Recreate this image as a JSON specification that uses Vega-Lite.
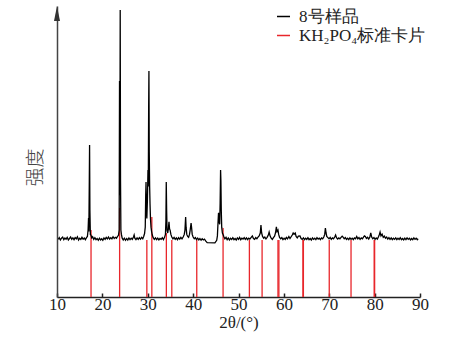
{
  "$schema": "https://vega.github.io/schema/vega-lite/v6.json",
  "width": 363,
  "height": 291,
  "autosize": "none",
  "padding": {"left": 57, "top": 6, "right": 31, "bottom": 49},
  "config": {
    "view": {"stroke": null},
    "font": "Liberation Serif",
    "axisX": {
      "grid": false,
      "domainColor": "#222", "domainWidth": 1.5,
      "tickColor": "#222", "tickWidth": 1.5, "tickSize": -4,
      "labelFont": "Liberation Serif", "labelFontSize": 17, "labelColor": "#222",
      "labelPadding": 3, "labelFlush": false, "labelOverlap": false,
      "titleFont": "Liberation Serif", "titleFontSize": 17,
      "titleFontWeight": "normal", "titleColor": "#222", "titlePadding": 2
    },
    "axisY": {
      "grid": false, "ticks": false, "labels": false,
      "domainColor": "#444", "domainWidth": 1.5,
      "titleFont": "Noto Sans CJK SC", "titleFontSize": 19,
      "titleFontWeight": 300, "titleColor": "#444",
      "titleAngle": -90, "titleAlign": "center", "titleBaseline": "middle",
      "titleX": -22, "titleY": 161
    }
  },
  "datasets": {
    "card": [
      {"theta": 17.5, "h": 23}, {"theta": 23.8, "h": 30.6}, {"theta": 29.8, "h": 19.6},
      {"theta": 30.9, "h": 27.5}, {"theta": 34.1, "h": 22}, {"theta": 35.3, "h": 19.6},
      {"theta": 40.8, "h": 19.6}, {"theta": 46.6, "h": 23.7}, {"theta": 52.4, "h": 19.6},
      {"theta": 55.2, "h": 19.6}, {"theta": 58.7, "h": 19.6}, {"theta": 58.9, "h": 19.6},
      {"theta": 64.2, "h": 19.6}, {"theta": 64.3, "h": 19.6}, {"theta": 70.0, "h": 19.6},
      {"theta": 74.8, "h": 19.6}, {"theta": 79.9, "h": 19.6}, {"theta": 80.0, "h": 19.6}
    ],
    "sample": [
      {"theta": 10.3, "i": 19.8}, {"theta": 10.5, "i": 20.4}, {"theta": 10.75, "i": 19.6}, {"theta": 11.0, "i": 20.2}, {"theta": 11.25, "i": 20.6},
      {"theta": 11.5, "i": 19.7}, {"theta": 11.75, "i": 20.3}, {"theta": 12.0, "i": 19.9}, {"theta": 12.25, "i": 20.5}, {"theta": 12.5, "i": 19.6},
      {"theta": 12.75, "i": 20.1}, {"theta": 13.0, "i": 20.6}, {"theta": 13.25, "i": 19.8}, {"theta": 13.5, "i": 20.3}, {"theta": 13.75, "i": 19.7},
      {"theta": 14.0, "i": 20.4}, {"theta": 14.25, "i": 20.0}, {"theta": 14.5, "i": 20.7}, {"theta": 14.75, "i": 19.6}, {"theta": 15.0, "i": 20.2},
      {"theta": 15.25, "i": 19.8}, {"theta": 15.5, "i": 20.5}, {"theta": 15.75, "i": 19.9}, {"theta": 16.0, "i": 20.3}, {"theta": 16.25, "i": 19.7},
      {"theta": 16.5, "i": 20.4}, {"theta": 16.7, "i": 20.8}, {"theta": 16.85, "i": 23}, {"theta": 16.95, "i": 27.1}, {"theta": 17.02, "i": 22.5},
      {"theta": 17.12, "i": 40}, {"theta": 17.18, "i": 52.2}, {"theta": 17.25, "i": 30}, {"theta": 17.35, "i": 21.5}, {"theta": 17.5, "i": 21.2},
      {"theta": 17.65, "i": 20.3}, {"theta": 17.85, "i": 20.7}, {"theta": 18.1, "i": 19.8}, {"theta": 18.35, "i": 20.4}, {"theta": 18.6, "i": 19.7},
      {"theta": 18.85, "i": 20.1}, {"theta": 19.1, "i": 19.5}, {"theta": 19.35, "i": 20.2}, {"theta": 19.6, "i": 19.6}, {"theta": 19.85, "i": 20.0},
      {"theta": 20.1, "i": 19.5}, {"theta": 20.35, "i": 20.3}, {"theta": 20.6, "i": 19.8}, {"theta": 20.85, "i": 20.5}, {"theta": 21.1, "i": 20.0},
      {"theta": 21.35, "i": 20.6}, {"theta": 21.6, "i": 19.9}, {"theta": 21.85, "i": 20.4}, {"theta": 22.1, "i": 20.0}, {"theta": 22.35, "i": 20.7},
      {"theta": 22.6, "i": 20.1}, {"theta": 22.85, "i": 20.5}, {"theta": 23.1, "i": 20.2}, {"theta": 23.35, "i": 20.8}, {"theta": 23.55, "i": 21.2},
      {"theta": 23.7, "i": 23}, {"theta": 23.78, "i": 74.2}, {"theta": 23.85, "i": 35}, {"theta": 23.93, "i": 98.6}, {"theta": 24.0, "i": 40},
      {"theta": 24.08, "i": 23}, {"theta": 24.2, "i": 21.5}, {"theta": 24.35, "i": 20.3}, {"theta": 24.6, "i": 19.6}, {"theta": 24.85, "i": 20.2},
      {"theta": 25.1, "i": 19.5}, {"theta": 25.35, "i": 20.1}, {"theta": 25.6, "i": 19.6}, {"theta": 25.85, "i": 20.3}, {"theta": 26.1, "i": 19.7},
      {"theta": 26.35, "i": 20.2}, {"theta": 26.6, "i": 19.8}, {"theta": 26.85, "i": 20.6}, {"theta": 27.0, "i": 21.3}, {"theta": 27.15, "i": 20.2},
      {"theta": 27.4, "i": 19.7}, {"theta": 27.65, "i": 20.3}, {"theta": 27.9, "i": 19.8}, {"theta": 28.15, "i": 20.4}, {"theta": 28.4, "i": 19.9},
      {"theta": 28.65, "i": 20.5}, {"theta": 28.9, "i": 20.0}, {"theta": 29.1, "i": 20.8}, {"theta": 29.3, "i": 21.8}, {"theta": 29.45, "i": 24},
      {"theta": 29.55, "i": 35}, {"theta": 29.62, "i": 39.5}, {"theta": 29.7, "i": 30}, {"theta": 29.8, "i": 27}, {"theta": 29.92, "i": 33},
      {"theta": 30.05, "i": 43.6}, {"theta": 30.12, "i": 38}, {"theta": 30.2, "i": 65}, {"theta": 30.26, "i": 77.7}, {"theta": 30.33, "i": 50},
      {"theta": 30.42, "i": 37.8}, {"theta": 30.5, "i": 32}, {"theta": 30.6, "i": 27}, {"theta": 30.72, "i": 24}, {"theta": 30.85, "i": 22.5},
      {"theta": 31.0, "i": 21.3}, {"theta": 31.2, "i": 20.4}, {"theta": 31.45, "i": 19.8}, {"theta": 31.7, "i": 20.3}, {"theta": 31.95, "i": 19.7},
      {"theta": 32.2, "i": 20.2}, {"theta": 32.45, "i": 19.6}, {"theta": 32.7, "i": 20.1}, {"theta": 32.95, "i": 19.8}, {"theta": 33.2, "i": 20.4},
      {"theta": 33.45, "i": 19.7}, {"theta": 33.7, "i": 20.5}, {"theta": 33.9, "i": 21.5}, {"theta": 34.0, "i": 26}, {"theta": 34.08, "i": 39.5},
      {"theta": 34.16, "i": 30}, {"theta": 34.25, "i": 23}, {"theta": 34.4, "i": 22}, {"theta": 34.55, "i": 23.5}, {"theta": 34.68, "i": 25.8},
      {"theta": 34.8, "i": 23.5}, {"theta": 34.95, "i": 22.8}, {"theta": 35.1, "i": 21.5}, {"theta": 35.3, "i": 20.6}, {"theta": 35.55, "i": 20.0},
      {"theta": 35.8, "i": 20.5}, {"theta": 36.05, "i": 19.8}, {"theta": 36.3, "i": 20.3}, {"theta": 36.55, "i": 19.7}, {"theta": 36.8, "i": 20.4},
      {"theta": 37.05, "i": 19.9}, {"theta": 37.3, "i": 20.5}, {"theta": 37.55, "i": 20.0}, {"theta": 37.8, "i": 20.6}, {"theta": 38.05, "i": 21.5},
      {"theta": 38.2, "i": 23}, {"theta": 38.35, "i": 27.5}, {"theta": 38.45, "i": 24}, {"theta": 38.6, "i": 21.5}, {"theta": 38.8, "i": 20.8},
      {"theta": 39.0, "i": 20.5}, {"theta": 39.2, "i": 21.5}, {"theta": 39.35, "i": 23}, {"theta": 39.55, "i": 25.4}, {"theta": 39.65, "i": 24},
      {"theta": 39.8, "i": 21.5}, {"theta": 40.0, "i": 20.6}, {"theta": 40.25, "i": 20.0}, {"theta": 40.5, "i": 20.4}, {"theta": 40.75, "i": 19.7},
      {"theta": 41.0, "i": 20.2}, {"theta": 41.25, "i": 19.6}, {"theta": 41.5, "i": 20.1}, {"theta": 41.75, "i": 19.5}, {"theta": 42.0, "i": 20.0},
      {"theta": 42.25, "i": 19.6}, {"theta": 42.5, "i": 19.9}, {"theta": 42.8, "i": 19.2}, {"theta": 43.1, "i": 18.7}, {"theta": 44.8, "i": 18.6},
      {"theta": 45.2, "i": 19.5}, {"theta": 45.35, "i": 21}, {"theta": 45.5, "i": 26}, {"theta": 45.6, "i": 28.9}, {"theta": 45.7, "i": 26},
      {"theta": 45.85, "i": 25}, {"theta": 45.95, "i": 32}, {"theta": 46.05, "i": 43.6}, {"theta": 46.12, "i": 40}, {"theta": 46.2, "i": 30},
      {"theta": 46.3, "i": 24}, {"theta": 46.45, "i": 22}, {"theta": 46.6, "i": 21.5}, {"theta": 46.8, "i": 20.6}, {"theta": 47.0, "i": 20.0},
      {"theta": 47.25, "i": 20.5}, {"theta": 47.5, "i": 19.7}, {"theta": 47.75, "i": 20.3}, {"theta": 48.0, "i": 19.6}, {"theta": 48.25, "i": 20.2},
      {"theta": 48.5, "i": 19.8}, {"theta": 48.75, "i": 20.4}, {"theta": 49.0, "i": 19.7}, {"theta": 49.25, "i": 20.1}, {"theta": 49.5, "i": 19.6},
      {"theta": 49.75, "i": 20.3}, {"theta": 50.0, "i": 19.8}, {"theta": 50.25, "i": 20.5}, {"theta": 50.5, "i": 19.7}, {"theta": 50.75, "i": 20.2},
      {"theta": 51.0, "i": 19.9}, {"theta": 51.25, "i": 20.4}, {"theta": 51.5, "i": 19.8}, {"theta": 51.75, "i": 20.3}, {"theta": 52.0, "i": 19.7},
      {"theta": 52.25, "i": 20.2}, {"theta": 52.5, "i": 19.9}, {"theta": 52.8, "i": 20.5}, {"theta": 53.05, "i": 21.0}, {"theta": 53.3, "i": 20.1},
      {"theta": 53.55, "i": 19.8}, {"theta": 53.8, "i": 20.4}, {"theta": 54.05, "i": 20.0}, {"theta": 54.3, "i": 20.6}, {"theta": 54.55, "i": 21},
      {"theta": 54.8, "i": 22}, {"theta": 54.95, "i": 24.7}, {"theta": 55.1, "i": 22}, {"theta": 55.3, "i": 20.8}, {"theta": 55.55, "i": 20.2},
      {"theta": 55.8, "i": 20.6}, {"theta": 56.05, "i": 20.0}, {"theta": 56.3, "i": 20.5}, {"theta": 56.55, "i": 21.2}, {"theta": 56.75, "i": 22.3},
      {"theta": 56.95, "i": 21.0}, {"theta": 57.2, "i": 20.2}, {"theta": 57.45, "i": 19.8}, {"theta": 57.7, "i": 20.4}, {"theta": 57.95, "i": 20.9},
      {"theta": 58.15, "i": 22}, {"theta": 58.35, "i": 24.1}, {"theta": 58.5, "i": 22.5}, {"theta": 58.7, "i": 23}, {"theta": 58.85, "i": 21.5},
      {"theta": 59.05, "i": 20.5}, {"theta": 59.3, "i": 20.0}, {"theta": 59.55, "i": 20.4}, {"theta": 59.8, "i": 19.7}, {"theta": 60.05, "i": 20.2},
      {"theta": 60.3, "i": 19.8}, {"theta": 60.55, "i": 20.5}, {"theta": 60.8, "i": 20.0}, {"theta": 61.1, "i": 20.8}, {"theta": 61.35, "i": 20.1},
      {"theta": 61.6, "i": 20.7}, {"theta": 61.85, "i": 21.3}, {"theta": 62.05, "i": 22.0}, {"theta": 62.25, "i": 21.6}, {"theta": 62.5, "i": 22.0},
      {"theta": 62.7, "i": 20.8}, {"theta": 62.95, "i": 20.3}, {"theta": 63.2, "i": 20.9}, {"theta": 63.55, "i": 21.0}, {"theta": 63.8, "i": 20.1},
      {"theta": 64.05, "i": 19.8}, {"theta": 64.3, "i": 20.3}, {"theta": 64.55, "i": 19.7}, {"theta": 64.8, "i": 20.2}, {"theta": 65.05, "i": 19.8},
      {"theta": 65.3, "i": 20.4}, {"theta": 65.55, "i": 19.7}, {"theta": 65.8, "i": 20.1}, {"theta": 66.05, "i": 19.6}, {"theta": 66.3, "i": 20.3},
      {"theta": 66.55, "i": 19.8}, {"theta": 66.8, "i": 20.2}, {"theta": 67.05, "i": 19.7}, {"theta": 67.3, "i": 20.4}, {"theta": 67.55, "i": 19.9},
      {"theta": 67.8, "i": 20.2}, {"theta": 68.05, "i": 19.7}, {"theta": 68.3, "i": 20.3}, {"theta": 68.55, "i": 20.0}, {"theta": 68.8, "i": 20.6},
      {"theta": 69.0, "i": 21.5}, {"theta": 69.15, "i": 23.7}, {"theta": 69.3, "i": 22}, {"theta": 69.45, "i": 20.8}, {"theta": 69.7, "i": 20.4},
      {"theta": 69.95, "i": 20.0}, {"theta": 70.2, "i": 20.5}, {"theta": 70.45, "i": 19.8}, {"theta": 70.7, "i": 20.3}, {"theta": 70.95, "i": 20.0},
      {"theta": 71.2, "i": 20.6}, {"theta": 71.4, "i": 21.3}, {"theta": 71.6, "i": 20.4}, {"theta": 71.85, "i": 19.9}, {"theta": 72.1, "i": 20.3},
      {"theta": 72.35, "i": 20.0}, {"theta": 72.6, "i": 20.5}, {"theta": 72.85, "i": 20.9}, {"theta": 73.05, "i": 20.6}, {"theta": 73.3, "i": 20.0},
      {"theta": 73.55, "i": 20.4}, {"theta": 73.8, "i": 19.8}, {"theta": 74.05, "i": 20.2}, {"theta": 74.3, "i": 19.7}, {"theta": 74.55, "i": 20.3},
      {"theta": 74.8, "i": 19.8}, {"theta": 75.05, "i": 20.2}, {"theta": 75.3, "i": 19.7}, {"theta": 75.55, "i": 20.3}, {"theta": 75.8, "i": 20.0},
      {"theta": 76.05, "i": 20.8}, {"theta": 76.3, "i": 20.0}, {"theta": 76.55, "i": 20.4}, {"theta": 76.8, "i": 19.8}, {"theta": 77.05, "i": 20.3},
      {"theta": 77.3, "i": 20.0}, {"theta": 77.55, "i": 20.6}, {"theta": 77.75, "i": 21.0}, {"theta": 77.95, "i": 20.8}, {"theta": 78.2, "i": 20.1},
      {"theta": 78.45, "i": 20.5}, {"theta": 78.7, "i": 19.9}, {"theta": 78.95, "i": 20.6}, {"theta": 79.15, "i": 22.0}, {"theta": 79.35, "i": 20.6},
      {"theta": 79.6, "i": 20.0}, {"theta": 79.85, "i": 20.4}, {"theta": 80.1, "i": 19.8}, {"theta": 80.35, "i": 20.3}, {"theta": 80.6, "i": 19.9},
      {"theta": 80.85, "i": 20.7}, {"theta": 81.05, "i": 21.5}, {"theta": 81.2, "i": 22.3}, {"theta": 81.4, "i": 21.0}, {"theta": 81.65, "i": 21.6},
      {"theta": 81.9, "i": 20.5}, {"theta": 82.15, "i": 20.9}, {"theta": 82.4, "i": 20.2}, {"theta": 82.65, "i": 20.6}, {"theta": 82.9, "i": 19.9},
      {"theta": 83.15, "i": 20.4}, {"theta": 83.4, "i": 19.8}, {"theta": 83.65, "i": 20.3}, {"theta": 83.9, "i": 19.7}, {"theta": 84.15, "i": 20.2},
      {"theta": 84.4, "i": 19.8}, {"theta": 84.65, "i": 20.3}, {"theta": 84.9, "i": 19.7}, {"theta": 85.15, "i": 20.2}, {"theta": 85.4, "i": 19.8},
      {"theta": 85.65, "i": 20.4}, {"theta": 85.9, "i": 19.7}, {"theta": 86.15, "i": 20.1}, {"theta": 86.4, "i": 19.6}, {"theta": 86.65, "i": 20.2},
      {"theta": 86.9, "i": 19.7}, {"theta": 87.15, "i": 20.3}, {"theta": 87.4, "i": 19.8}, {"theta": 87.65, "i": 20.2}, {"theta": 87.9, "i": 19.6},
      {"theta": 88.15, "i": 20.1}, {"theta": 88.4, "i": 19.7}, {"theta": 88.65, "i": 20.3}, {"theta": 88.9, "i": 19.8}, {"theta": 89.15, "i": 20.2},
      {"theta": 89.4, "i": 19.7}, {"theta": 89.6, "i": 20.0}
    ]
  },
  "layer": [
    {
      "data": {"name": "card"},
      "mark": {"type": "rule", "strokeWidth": 1.3},
      "encoding": {
        "x": {
          "field": "theta", "type": "quantitative",
          "scale": {"domain": [10, 90], "nice": false, "zero": false},
          "axis": {"values": [10, 20, 30, 40, 50, 60, 70, 80, 90], "title": "2θ/(°)", "labelFlush": false}
        },
        "y": {
          "field": "h", "type": "quantitative",
          "scale": {"domain": [0, 100], "nice": false},
          "axis": {"title": "强度"}
        },
        "y2": {"datum": 0},
        "color": {
          "datum": "KH₂PO₄标准卡片",
          "scale": {"domain": ["8号样品", "KH₂PO₄标准卡片"], "range": ["#000000", "#e8262b"]},
          "legend": {
            "orient": "none", "legendX": 218, "legendY": 2, "title": null,
            "symbolType": "stroke", "symbolSize": 169, "symbolStrokeWidth": 1.5,
            "labelFont": "Liberation Serif", "labelFontSize": 17,
            "labelColor": "#222", "labelOffset": 7, "rowPadding": 1, "padding": 0
          }
        }
      }
    },
    {
      "data": {"name": "sample"},
      "mark": {"type": "line", "strokeWidth": 1.3},
      "encoding": {
        "x": {"field": "theta", "type": "quantitative"},
        "y": {"field": "i", "type": "quantitative"},
        "color": {"datum": "8号样品"}
      }
    },
    {
      "data": {"values": [{"k": "arrow"}]},
      "mark": {"type": "point", "shape": "M0,-1L0.4,1L-0.4,1Z", "size": 225, "filled": true, "color": "#333", "opacity": 1},
      "encoding": {
        "x": {"datum": 10, "type": "quantitative"},
        "y": {"datum": 97.4, "type": "quantitative"}
      }
    }
  ]
}
